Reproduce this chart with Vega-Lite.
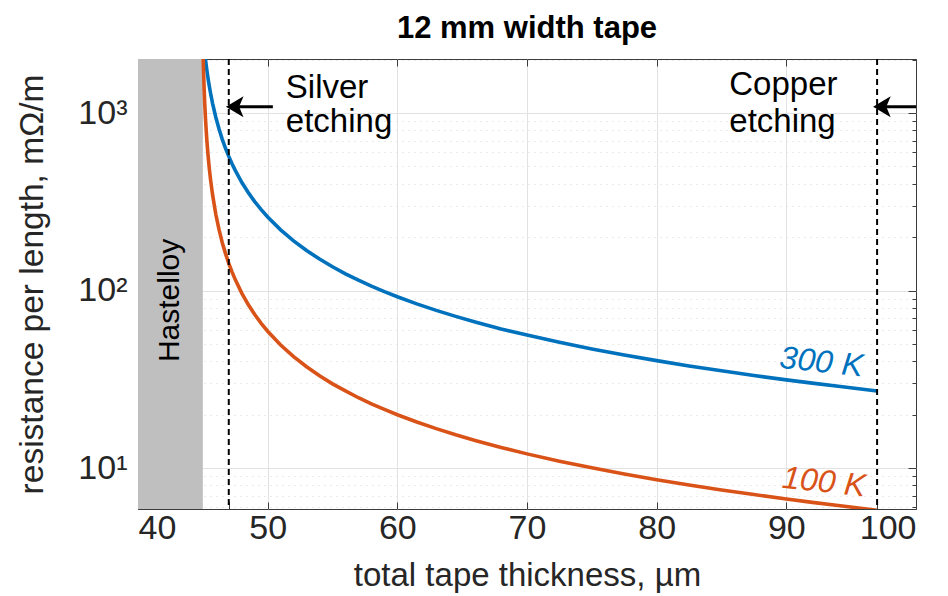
{
  "$schema": "https://vega.github.io/schema/vega-lite/v6.json",
  "width": 778,
  "height": 450,
  "autosize": "none",
  "padding": {"left": 138, "top": 59, "right": 32, "bottom": 87},
  "title": {"text": "12 mm width tape", "font": "Liberation Sans", "fontSize": 31, "fontWeight": "bold", "color": "#000000", "offset": -14, "anchor": "middle"},
  "config": {
    "view": {"stroke": "#3c3c3c", "strokeWidth": 1},
    "font": "Liberation Sans",
    "axis": {"labelFont": "Liberation Sans", "titleFont": "Liberation Sans", "labelColor": "#262626", "titleColor": "#262626", "titleFontWeight": "normal", "tickColor": "#3c3c3c"}
  },
  "datasets": {
    "curves": [
      {"t": 45.0, "R": 2801, "series": "300 K"},
      {"t": 45.05, "R": 2551, "series": "300 K"},
      {"t": 45.1, "R": 2342, "series": "300 K"},
      {"t": 45.15, "R": 2165, "series": "300 K"},
      {"t": 45.2, "R": 2012, "series": "300 K"},
      {"t": 45.3, "R": 1764, "series": "300 K"},
      {"t": 45.4, "R": 1571, "series": "300 K"},
      {"t": 45.5, "R": 1415, "series": "300 K"},
      {"t": 45.6, "R": 1288, "series": "300 K"},
      {"t": 45.75, "R": 1134, "series": "300 K"},
      {"t": 46, "R": 947, "series": "300 K"},
      {"t": 46.25, "R": 812, "series": "300 K"},
      {"t": 46.5, "R": 711, "series": "300 K"},
      {"t": 46.75, "R": 633, "series": "300 K"},
      {"t": 47, "R": 570, "series": "300 K"},
      {"t": 47.25, "R": 518, "series": "300 K"},
      {"t": 47.5, "R": 475, "series": "300 K"},
      {"t": 48, "R": 407, "series": "300 K"},
      {"t": 48.5, "R": 356.6, "series": "300 K"},
      {"t": 49, "R": 317, "series": "300 K"},
      {"t": 49.5, "R": 285.4, "series": "300 K"},
      {"t": 50, "R": 259.5, "series": "300 K"},
      {"t": 51, "R": 219.6, "series": "300 K"},
      {"t": 52, "R": 190.4, "series": "300 K"},
      {"t": 53, "R": 168.0, "series": "300 K"},
      {"t": 54, "R": 150.4, "series": "300 K"},
      {"t": 55, "R": 136.1, "series": "300 K"},
      {"t": 56, "R": 124.2, "series": "300 K"},
      {"t": 57, "R": 114.3, "series": "300 K"},
      {"t": 58, "R": 105.8, "series": "300 K"},
      {"t": 59, "R": 98.5, "series": "300 K"},
      {"t": 60, "R": 92.2, "series": "300 K"},
      {"t": 61.5, "R": 84.1, "series": "300 K"},
      {"t": 63, "R": 77.3, "series": "300 K"},
      {"t": 64.5, "R": 71.5, "series": "300 K"},
      {"t": 66, "R": 66.5, "series": "300 K"},
      {"t": 68, "R": 60.8, "series": "300 K"},
      {"t": 70, "R": 56.1, "series": "300 K"},
      {"t": 72.5, "R": 51.1, "series": "300 K"},
      {"t": 75, "R": 46.9, "series": "300 K"},
      {"t": 77.5, "R": 43.3, "series": "300 K"},
      {"t": 80, "R": 40.3, "series": "300 K"},
      {"t": 82.5, "R": 37.6, "series": "300 K"},
      {"t": 85, "R": 35.3, "series": "300 K"},
      {"t": 87.5, "R": 33.2, "series": "300 K"},
      {"t": 90, "R": 31.4, "series": "300 K"},
      {"t": 92, "R": 30.1, "series": "300 K"},
      {"t": 94, "R": 28.9, "series": "300 K"},
      {"t": 97, "R": 27.2, "series": "300 K"},
      {"t": 45.0, "R": 2500, "series": "100 K"},
      {"t": 45.05, "R": 1768, "series": "100 K"},
      {"t": 45.1, "R": 1368, "series": "100 K"},
      {"t": 45.15, "R": 1115, "series": "100 K"},
      {"t": 45.2, "R": 941, "series": "100 K"},
      {"t": 45.3, "R": 718, "series": "100 K"},
      {"t": 45.4, "R": 580, "series": "100 K"},
      {"t": 45.5, "R": 486, "series": "100 K"},
      {"t": 45.6, "R": 419, "series": "100 K"},
      {"t": 45.75, "R": 347, "series": "100 K"},
      {"t": 46, "R": 269, "series": "100 K"},
      {"t": 46.25, "R": 220.3, "series": "100 K"},
      {"t": 46.5, "R": 186, "series": "100 K"},
      {"t": 46.75, "R": 161.4, "series": "100 K"},
      {"t": 47, "R": 142.4, "series": "100 K"},
      {"t": 47.25, "R": 127.4, "series": "100 K"},
      {"t": 47.5, "R": 115.2, "series": "100 K"},
      {"t": 48, "R": 96.8, "series": "100 K"},
      {"t": 48.5, "R": 83.4, "series": "100 K"},
      {"t": 49, "R": 73.3, "series": "100 K"},
      {"t": 49.5, "R": 65.4, "series": "100 K"},
      {"t": 50, "R": 59.0, "series": "100 K"},
      {"t": 51, "R": 49.3, "series": "100 K"},
      {"t": 52, "R": 42.4, "series": "100 K"},
      {"t": 53, "R": 37.2, "series": "100 K"},
      {"t": 54, "R": 33.1, "series": "100 K"},
      {"t": 55, "R": 29.8, "series": "100 K"},
      {"t": 56, "R": 27.2, "series": "100 K"},
      {"t": 57, "R": 24.9, "series": "100 K"},
      {"t": 58, "R": 23.0, "series": "100 K"},
      {"t": 59, "R": 21.4, "series": "100 K"},
      {"t": 60, "R": 19.97, "series": "100 K"},
      {"t": 61.5, "R": 18.17, "series": "100 K"},
      {"t": 63, "R": 16.67, "series": "100 K"},
      {"t": 64.5, "R": 15.39, "series": "100 K"},
      {"t": 66, "R": 14.3, "series": "100 K"},
      {"t": 68, "R": 13.06, "series": "100 K"},
      {"t": 70, "R": 12.02, "series": "100 K"},
      {"t": 72.5, "R": 10.93, "series": "100 K"},
      {"t": 75, "R": 10.03, "series": "100 K"},
      {"t": 77.5, "R": 9.26, "series": "100 K"},
      {"t": 80, "R": 8.6, "series": "100 K"},
      {"t": 82.5, "R": 8.03, "series": "100 K"},
      {"t": 85, "R": 7.53, "series": "100 K"},
      {"t": 87.5, "R": 7.09, "series": "100 K"},
      {"t": 90, "R": 6.69, "series": "100 K"},
      {"t": 92, "R": 6.41, "series": "100 K"},
      {"t": 94, "R": 6.15, "series": "100 K"},
      {"t": 97, "R": 5.79, "series": "100 K"}
    ],
    "notes": [
      {"t": 51.4, "R": 1215, "label": "Silver"},
      {"t": 51.4, "R": 781, "label": "etching"},
      {"t": 85.6, "R": 1263, "label": "Copper"},
      {"t": 85.6, "R": 781, "label": "etching"}
    ],
    "curveLabels": [
      {"t": 92.7, "R": 39.5, "label": "300 K", "series": "300 K"},
      {"t": 92.9, "R": 8.34, "label": "100 K", "series": "100 K"}
    ],
    "arrows": [
      {"t0": 47.3, "t1": 50.4, "R": 1085, "tip": 47.46},
      {"t0": 97.3, "t1": 100, "R": 1085, "tip": 97.37}
    ]
  },
  "resolve": {"axis": {"x": "independent", "y": "independent"}},
  "layer": [
    {
      "data": {"values": [{"a": 40, "b": 45}]},
      "mark": {"type": "rect", "color": "#bfbfbf"},
      "encoding": {
        "x": {"field": "a", "type": "quantitative", "scale": {"domain": [40, 100], "nice": false, "zero": false}, "axis": null},
        "x2": {"field": "b"}
      }
    },
    {
      "data": {"name": "curves"},
      "mark": {"type": "point", "opacity": 0},
      "encoding": {
        "x": {"field": "t", "type": "quantitative", "scale": {"domain": [40, 100], "nice": false, "zero": false},
          "axis": {"orient": "top", "values": [40, 50, 60, 70, 80, 90, 100], "labels": false, "grid": false, "domain": false, "ticks": true, "tickSize": -7, "title": null}},
        "y": {"field": "R", "type": "quantitative", "scale": {"type": "log", "domain": [5.88, 2015], "nice": false},
          "axis": {"orient": "right", "values": [6, 7, 8, 9, 10, 20, 30, 40, 50, 60, 70, 80, 90, 100, 200, 300, 400, 500, 600, 700, 800, 900, 1000, 2000], "labels": false, "grid": false, "domain": false, "ticks": true,
            "tickSize": {"condition": {"test": "datum.value==10||datum.value==100||datum.value==1000", "value": -8}, "value": -4}, "title": null}}
      }
    },
    {
      "data": {"name": "curves"},
      "mark": {"type": "line", "strokeWidth": 3.6, "clip": true},
      "encoding": {
        "x": {"field": "t", "type": "quantitative", "scale": {"domain": [40, 100], "nice": false, "zero": false},
          "axis": {"orient": "bottom", "values": [40, 47, 50, 60, 70, 80, 90, 97, 100],
            "labelExpr": "datum.value==47||datum.value==97?'':datum.label",
            "labelFontSize": 34, "labelPadding": 9, "labelOverlap": false,
            "grid": true, "gridColor": "#e2e2e2", "gridWidth": 1,
            "gridOpacity": {"condition": {"test": "datum.value==47||datum.value==97||datum.value==40||datum.value==100", "value": 0}, "value": 1},
            "domain": false, "ticks": true, "tickSize": -7,
            "title": "total tape thickness, µm", "titleFontSize": 33, "titlePadding": 14}},
        "y": {"field": "R", "type": "quantitative", "scale": {"type": "log", "domain": [5.88, 2015], "nice": false},
          "axis": {"orient": "left", "values": [6, 7, 8, 9, 10, 20, 30, 40, 50, 60, 70, 80, 90, 100, 200, 300, 400, 500, 600, 700, 800, 900, 1000, 2000],
            "labelExpr": "datum.value==1000?'10³':datum.value==100?'10²':datum.value==10?'10¹':''",
            "labelFontSize": 34, "labelPadding": 19, "labelOverlap": false,
            "grid": true,
            "gridColor": {"condition": {"test": "datum.value==10||datum.value==100||datum.value==1000", "value": "#e2e2e2"}, "value": "#d6d6d6"},
            "gridDash": {"condition": {"test": "datum.value==10||datum.value==100||datum.value==1000", "value": []}, "value": [1, 5]},
            "domain": false, "ticks": true,
            "tickSize": {"condition": {"test": "datum.value==10||datum.value==100||datum.value==1000", "value": -8}, "value": -4},
            "title": "resistance per length, mΩ/m", "titleFontSize": 33.5, "titlePadding": 28}},
        "color": {"field": "series", "type": "nominal", "scale": {"domain": ["300 K", "100 K"], "range": ["#0072BD", "#D95319"]}, "legend": null},
        "detail": {"field": "series"}
      }
    },
    {
      "data": {"values": [{"x": 47}, {"x": 97}]},
      "mark": {"type": "rule", "color": "#000000", "strokeWidth": 2, "strokeDash": [6, 4]},
      "encoding": {
        "x": {"field": "x", "type": "quantitative", "scale": {"domain": [40, 100], "nice": false, "zero": false}, "axis": null}
      }
    },
    {
      "data": {"name": "arrows"},
      "mark": {"type": "rule", "color": "#000000", "strokeWidth": 3},
      "encoding": {
        "x": {"field": "t0", "type": "quantitative", "scale": {"domain": [40, 100], "nice": false, "zero": false}, "axis": null},
        "x2": {"field": "t1"},
        "y": {"field": "R", "type": "quantitative", "scale": {"type": "log", "domain": [5.88, 2015], "nice": false}, "axis": null}
      }
    },
    {
      "data": {"name": "arrows"},
      "mark": {"type": "point", "filled": true, "color": "#000000", "opacity": 1, "size": 484, "shape": "M -0.8 0 L 0.8 -0.95 L 0.4 0 L 0.8 0.95 Z"},
      "encoding": {
        "x": {"field": "tip", "type": "quantitative", "scale": {"domain": [40, 100], "nice": false, "zero": false}, "axis": null},
        "y": {"field": "R", "type": "quantitative", "scale": {"type": "log", "domain": [5.88, 2015], "nice": false}, "axis": null}
      }
    },
    {
      "data": {"name": "notes"},
      "mark": {"type": "text", "align": "left", "baseline": "alphabetic", "fontSize": 33, "color": "#000000", "font": "Liberation Sans"},
      "encoding": {
        "x": {"field": "t", "type": "quantitative", "scale": {"domain": [40, 100], "nice": false, "zero": false}, "axis": null},
        "y": {"field": "R", "type": "quantitative", "scale": {"type": "log", "domain": [5.88, 2015], "nice": false}, "axis": null},
        "text": {"field": "label"}
      }
    },
    {
      "data": {"name": "curveLabels"},
      "mark": {"type": "text", "align": "center", "baseline": "middle", "fontSize": 32, "fontStyle": "italic", "angle": 6, "font": "Liberation Sans"},
      "encoding": {
        "x": {"field": "t", "type": "quantitative", "scale": {"domain": [40, 100], "nice": false, "zero": false}, "axis": null},
        "y": {"field": "R", "type": "quantitative", "scale": {"type": "log", "domain": [5.88, 2015], "nice": false}, "axis": null},
        "text": {"field": "label"},
        "color": {"field": "series", "type": "nominal", "scale": {"domain": ["300 K", "100 K"], "range": ["#0072BD", "#D95319"]}, "legend": null}
      }
    },
    {
      "data": {"values": [{"t": 42.5, "R": 88, "label": "Hastelloy"}]},
      "mark": {"type": "text", "align": "center", "baseline": "middle", "fontSize": 30, "angle": 270, "color": "#000000", "font": "Liberation Sans"},
      "encoding": {
        "x": {"field": "t", "type": "quantitative", "scale": {"domain": [40, 100], "nice": false, "zero": false}, "axis": null},
        "y": {"field": "R", "type": "quantitative", "scale": {"type": "log", "domain": [5.88, 2015], "nice": false}, "axis": null},
        "text": {"field": "label"}
      }
    }
  ]
}
